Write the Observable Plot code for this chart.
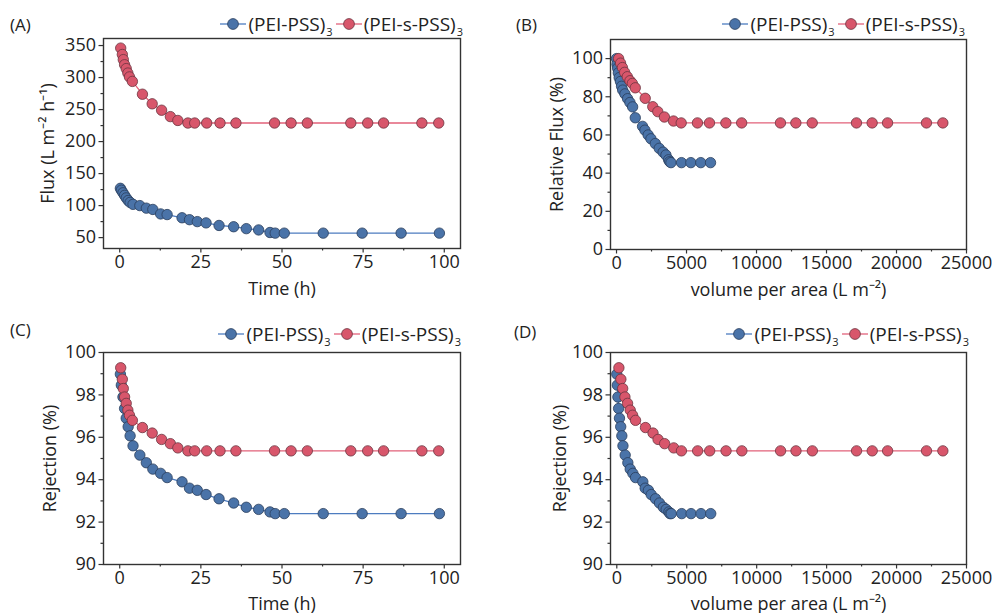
<!DOCTYPE html>
<html>
<head>
<meta charset="utf-8">
<script src="https://cdn.jsdelivr.net/npm/d3@7"></script>
<script src="https://cdn.jsdelivr.net/npm/@observablehq/plot@0.6"></script>
<style>
  html, body { margin: 0; padding: 0; background: #fff; }
  body { width: 995px; height: 613px; position: relative; overflow: hidden; font-family: "Open Sans", sans-serif; color: #222; }
  .panel { position: absolute; }
  .panel svg { display: block; }
  .plabel { position: absolute; font-size: 17px; line-height: 24px; }
  .legend { position: absolute; font-size: 19px; line-height: 24px; white-space: nowrap; display: flex; align-items: center; }
  .legend .item { display: inline-flex; align-items: center; margin-left: 3px; }
  .legend svg { margin-right: 2px; }
  .legend sub { font-size: 11px; position: relative; top: 8px; line-height: 0; vertical-align: baseline; margin-left: 1px; }
</style>
</head>
<body>
<div id="root"></div>
<script>
// ---------- data ----------
const seriesNames = ["(PEI-PSS)", "(PEI-s-PSS)"];

// (PEI-PSS)3
const tBlue = [0.2, 0.5, 1.0, 1.5, 2.0, 2.6, 3.2, 4.1, 6.2, 8.2, 10.2, 12.6, 14.6, 19.2, 21.5, 23.9, 26.6, 30.6, 35.1, 39.0, 42.8, 46.3, 47.9, 50.7, 62.7, 74.7, 86.7, 98.5];
const fluxBlue = [127, 124, 120, 116, 112, 108, 105, 102, 100, 96, 94, 87, 86, 81, 78, 75, 73, 69, 67, 64, 62, 58, 57, 57, 57, 57, 57, 57];
const volBlue = [0, 40, 80, 130, 190, 280, 360, 440, 600, 790, 960, 1150, 1340, 1860, 2030, 2260, 2460, 2770, 3050, 3330, 3530, 3720, 3800, 3890, 4640, 5310, 6020, 6715];
const relBlue = [100, 97, 95, 92.5, 90, 88, 85.5, 83.5, 81.5, 79, 77, 74.7, 69, 64.5, 62.5, 60, 58, 55.5, 53, 51, 49.5, 47, 46, 45.5, 45.5, 45.5, 45.5, 45.5];
const rejBlue = [98.98, 98.46, 97.9, 97.36, 96.9, 96.5, 96.07, 95.6, 95.16, 94.8, 94.5, 94.3, 94.1, 93.9, 93.6, 93.5, 93.3, 93.1, 92.9, 92.7, 92.6, 92.48, 92.4, 92.4, 92.4, 92.4, 92.4, 92.4];

// (PEI-s-PSS)3
const tRed = [0.3, 0.8, 1.1, 1.5, 2.0, 2.5, 3.0, 3.9, 7.0, 10.0, 12.9, 15.6, 17.9, 21.0, 23.1, 26.8, 30.9, 35.8, 47.7, 52.8, 57.8, 71.2, 76.4, 81.3, 93.1, 98.3];
const fluxRed = [346, 336, 328, 320, 314, 307, 301, 294, 274, 259, 249, 239, 233, 229, 229, 229, 229, 229, 229, 229, 229, 229, 229, 229, 229, 229];
const volRed = [150, 290, 420, 580, 770, 960, 1130, 1340, 2050, 2590, 2950, 3420, 4070, 4620, 5780, 6640, 7810, 8940, 11710, 12810, 13980, 17140, 18260, 19360, 22140, 23310];
const relRed = [100, 97.6, 95.3, 92.8, 90.5, 88.4, 87, 84.7, 79.2, 74.8, 72.2, 69.4, 67.3, 66.3, 66.3, 66.3, 66.3, 66.3, 66.3, 66.3, 66.3, 66.3, 66.3, 66.3, 66.3, 66.3];
const rejRed = [99.28, 98.74, 98.3, 97.9, 97.6, 97.28, 97.04, 96.8, 96.46, 96.2, 95.9, 95.7, 95.5, 95.36, 95.36, 95.36, 95.36, 95.36, 95.36, 95.36, 95.36, 95.36, 95.36, 95.36, 95.36, 95.36];

// ticks
const timeTicks = [0, 25, 50, 75, 100];
const timeMinor = [12.5, 37.5, 62.5, 87.5];
const volTicks = [0, 5000, 10000, 15000, 20000, 25000];
const volMinor = [2500, 7500, 12500, 17500, 22500];
const fluxTicks = [50, 100, 150, 200, 250, 300, 350];
const fluxMinor = [75, 125, 175, 225, 275, 325];
const relTicks = [0, 20, 40, 60, 80, 100];
const relMinor = [10, 30, 50, 70, 90];
const rejTicks = [90, 92, 94, 96, 98, 100];
const rejMinor = [91, 93, 95, 97, 99];

// ---------- style ----------
const blueFill = "#4a73a8", blueStroke = "#2a3d5c", blueLine = "#4d7cc0";
const redFill = "#d8566b", redStroke = "#6b3540", redLine = "#e2627a";
const axisColor = "#333";
const FS = 18;

const zip = (xs, ys) => xs.map((x, i) => ({x, y: ys[i]}));

function panel(cfg) {
  const blue = zip(cfg.xBlue, cfg.yBlue);
  const red = zip(cfg.xRed, cfg.yRed);
  const fmt = d => String(d);
  return Plot.plot({
    width: cfg.width, height: cfg.height,
    marginLeft: cfg.ml, marginRight: cfg.mr, marginTop: cfg.mt, marginBottom: cfg.mb,
    style: {fontFamily: "Open Sans, sans-serif", fontSize: FS + "px", color: "#222", background: "transparent", overflow: "visible"},
    x: {domain: cfg.xDomain},
    y: {domain: cfg.yDomain},
    marks: [
      Plot.line(blue, {x: "x", y: "y", stroke: blueLine, strokeWidth: 1.3}),
      Plot.line(red, {x: "x", y: "y", stroke: redLine, strokeWidth: 1.3}),
      Plot.dot(blue, {x: "x", y: "y", r: 5.2, fill: blueFill, stroke: blueStroke, strokeWidth: 0.8}),
      Plot.dot(red, {x: "x", y: "y", r: 5.2, fill: redFill, stroke: redStroke, strokeWidth: 0.8}),
      Plot.frame({stroke: axisColor, strokeWidth: 1.4}),
      Plot.axisX({ticks: cfg.xTicks, tickSize: 4.5, tickPadding: 2, tickFormat: fmt, label: null, stroke: axisColor, strokeWidth: 1.2, fontSize: FS}),
      Plot.axisX({ticks: cfg.xMinor, tickSize: 2.5, text: null, label: null, stroke: axisColor, strokeWidth: 1.2}),
      Plot.axisY({ticks: cfg.yTicks, tickSize: 4.5, tickPadding: 3, tickFormat: fmt, label: null, stroke: axisColor, strokeWidth: 1.2, fontSize: FS}),
      Plot.axisY({ticks: cfg.yMinor, tickSize: 2.5, text: null, label: null, stroke: axisColor, strokeWidth: 1.2}),
      Plot.text([cfg.xLabel], {frameAnchor: "bottom", dy: cfg.xLabelDy, textAnchor: "middle", lineAnchor: "middle", text: d => d, fontSize: FS, fill: "#222"}),
      Plot.text([cfg.yLabel], {frameAnchor: "left", dx: -cfg.yLabelDx, rotate: -90, textAnchor: "middle", lineAnchor: "middle", text: d => d, fontSize: FS, fill: "#222"})
    ]
  });
}

function legendHTML() {
  const icon = (line, fill, stroke) =>
    `<svg width="26" height="14"><line x1="0" x2="26" y1="7" y2="7" stroke="${line}" stroke-width="1.3"/><circle cx="13" cy="7" r="5.4" fill="${fill}" stroke="${stroke}" stroke-width="0.8"/></svg>`;
  return `<span class="item">${icon(blueLine, blueFill, blueStroke)}${seriesNames[0]}<sub>3</sub></span>` +
         `<span class="item">${icon(redLine, redFill, redStroke)}${seriesNames[1]}<sub>3</sub></span>`;
}

const panels = [
  {id: "A", left: 0, top: 0, width: 497, height: 300, ml: 103, mr: 37, mt: 38, mb: 52,
   xDomain: [-5, 105], yDomain: [33, 361], xTicks: timeTicks, xMinor: timeMinor, yTicks: fluxTicks, yMinor: fluxMinor,
   xBlue: tBlue, yBlue: fluxBlue, xRed: tRed, yRed: fluxRed,
   xLabel: "Time (h)", yLabel: "Flux (L m⁻² h⁻¹)", xLabelDy: 41, yLabelDx: 55,
   labelLeft: 10, labelTop: 13, legendRight: 34, legendTop: 12},
  {id: "B", left: 497, top: 0, width: 498, height: 300, ml: 113, mr: 29, mt: 39, mb: 51,
   xDomain: [-430, 25000], yDomain: [0, 110], xTicks: volTicks, xMinor: volMinor, yTicks: relTicks, yMinor: relMinor,
   xBlue: volBlue, yBlue: relBlue, xRed: volRed, yRed: relRed,
   xLabel: "volume per area (L m⁻²)", yLabel: "Relative Flux (%)", xLabelDy: 41, yLabelDx: 53,
   labelLeft: 19, labelTop: 13, legendRight: 30, legendTop: 12},
  {id: "C", left: 0, top: 300, width: 497, height: 313, ml: 103, mr: 37, mt: 52, mb: 49,
   xDomain: [-5, 105], yDomain: [90, 100], xTicks: timeTicks, xMinor: timeMinor, yTicks: rejTicks, yMinor: rejMinor,
   xBlue: tBlue, yBlue: rejBlue, xRed: tRed, yRed: rejRed,
   xLabel: "Time (h)", yLabel: "Rejection (%)", xLabelDy: 39.5, yLabelDx: 53,
   labelLeft: 10, labelTop: 18, legendRight: 36, legendTop: 22},
  {id: "D", left: 497, top: 300, width: 498, height: 313, ml: 113, mr: 29, mt: 52, mb: 49,
   xDomain: [-450, 25000], yDomain: [90, 100], xTicks: volTicks, xMinor: volMinor, yTicks: rejTicks, yMinor: rejMinor,
   xBlue: volBlue, yBlue: rejBlue, xRed: volRed, yRed: rejRed,
   xLabel: "volume per area (L m⁻²)", yLabel: "Rejection (%)", xLabelDy: 39.5, yLabelDx: 50,
   labelLeft: 17, labelTop: 20, legendRight: 26, legendTop: 22}
];

const root = document.getElementById("root");
for (const p of panels) {
  const div = document.createElement("div");
  div.className = "panel";
  div.style.left = p.left + "px"; div.style.top = p.top + "px";
  div.style.width = p.width + "px"; div.style.height = p.height + "px";
  div.appendChild(panel(p));
  const lab = document.createElement("div");
  lab.className = "plabel";
  lab.style.left = p.labelLeft + "px"; lab.style.top = p.labelTop + "px";
  lab.textContent = "(" + p.id + ")";
  div.appendChild(lab);
  const leg = document.createElement("div");
  leg.className = "legend";
  leg.style.right = p.legendRight + "px"; leg.style.top = p.legendTop + "px";
  leg.innerHTML = legendHTML();
  div.appendChild(leg);
  root.appendChild(div);
}
</script>
</body>
</html>
